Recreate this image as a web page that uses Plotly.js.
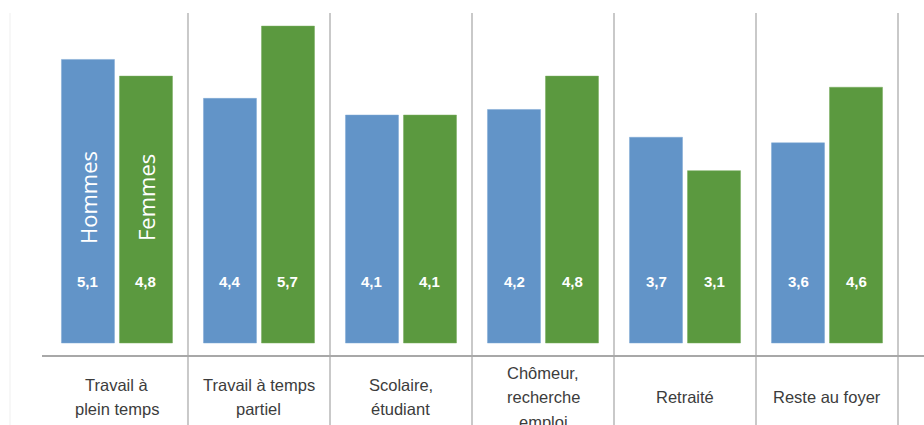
<!DOCTYPE html>
<html>
<head>
<meta charset="utf-8">
<script src="https://cdn.plot.ly/plotly-3.0.1.min.js"></script>
<style>
html,body{margin:0;padding:0;background:#ffffff;}
#chart{width:924px;height:425px;}
</style>
</head>
<body>
<div id="chart"></div>
<script>
// ---- Data ----
const categories = ["Travail à plein temps", "Travail à temps partiel", "Scolaire, étudiant", "Chômeur, recherche emploi", "Retraité", "Reste au foyer"];
const categoryLines = [
  ["Travail à", "plein temps"],
  ["Travail à temps", "partiel"],
  ["Scolaire,", "étudiant"],
  ["Chômeur,", "recherche", "emploi"],
  ["Retraité"],
  ["Reste au foyer"]
];
const hommes = [5.1, 4.4, 4.1, 4.2, 3.7, 3.6];
const femmes = [4.8, 5.7, 4.1, 4.8, 3.1, 4.6];
const seriesNames = ["Hommes", "Femmes"];

// ---- Layout helpers (pixels -> paper) ----
const plotTop = 13, plotBottom = 356, plotH = plotBottom - plotTop;
const pyToPaper = py => (plotBottom - py) / plotH;
const fmt = v => v.toFixed(1).replace('.', ',');

const blue = '#6294c8';
const green = '#5b993f';

const traces = [
  {type: 'bar', name: seriesNames[0], x: categories, y: hommes,
   marker: {color: blue, line: {color: '#7fa8d4', width: 0.5}}, hoverinfo: 'none'},
  {type: 'bar', name: seriesNames[1], x: categories, y: femmes,
   marker: {color: green, line: {color: '#78ad5f', width: 0.5}}, hoverinfo: 'none'}
];

const annotations = [];
const shapes = [];
categories.forEach((c, i) => {
  // value labels
  annotations.push({x: c, xref: 'x', y: pyToPaper(281), yref: 'paper', xshift: -29,
    text: '<b>' + fmt(hommes[i]) + '</b>', showarrow: false,
    font: {family: 'Liberation Sans, Arial, sans-serif', size: 15, color: '#ffffff'},
    xanchor: 'center', yanchor: 'middle'});
  annotations.push({x: c, xref: 'x', y: pyToPaper(281), yref: 'paper', xshift: 29,
    text: '<b>' + fmt(femmes[i]) + '</b>', showarrow: false,
    font: {family: 'Liberation Sans, Arial, sans-serif', size: 15, color: '#ffffff'},
    xanchor: 'center', yanchor: 'middle'});
  // category labels, line by line
  const lines = categoryLines[i];
  const n = lines.length;
  lines.forEach((ln, j) => {
    const py = 397 + (j - (n - 1) / 2) * 24.5;
    annotations.push({x: c, xref: 'x', y: pyToPaper(py), yref: 'paper',
      text: ln, showarrow: false,
      font: {family: 'Liberation Sans, Arial, sans-serif', size: 16.5, color: '#3c3c3c'},
      xanchor: 'center', yanchor: 'middle'});
  });
  // separators
  shapes.push({type: 'line', xref: 'x', yref: 'paper', x0: i + 0.5, x1: i + 0.5,
    y0: pyToPaper(425), y1: 1, line: {color: '#c9c9c9', width: 2}});
});

// series names inside first group
annotations.push({x: categories[0], xref: 'x', y: pyToPaper(197), yref: 'paper', xshift: -29,
  text: seriesNames[0], textangle: -90, showarrow: false,
  font: {family: 'Open Sans, sans-serif', size: 22, color: '#ffffff'}});
annotations.push({x: categories[0], xref: 'x', y: pyToPaper(197), yref: 'paper', xshift: 29,
  text: seriesNames[1], textangle: -90, showarrow: false,
  font: {family: 'Open Sans, sans-serif', size: 22, color: '#ffffff'}});

// baseline axis line
shapes.push({type: 'line', xref: 'paper', yref: 'paper', x0: 0, x1: 1, y0: 0, y1: 0,
  line: {color: '#a8a8a8', width: 2}});
// faint left border
shapes.push({type: 'line', xref: 'paper', yref: 'paper', x0: (10 - 42) / 882, x1: (10 - 42) / 882,
  y0: pyToPaper(425), y1: 1, line: {color: '#efefef', width: 1}});

const pxPerUnit = 55.6;
const layout = {
  width: 924, height: 425,
  margin: {l: 42, r: 0, t: plotTop, b: 425 - plotBottom, pad: 0},
  paper_bgcolor: '#ffffff', plot_bgcolor: '#ffffff',
  showlegend: false,
  barmode: 'group', bargap: 0.183, bargroupgap: 0.086,
  xaxis: {type: 'category', range: [-0.528, 5.683], visible: false, showgrid: false, zeroline: false},
  yaxis: {range: [-13 / pxPerUnit, (343 - plotTop) / pxPerUnit], visible: false, showgrid: false, zeroline: false},
  annotations: annotations,
  shapes: shapes
};

Plotly.newPlot('chart', traces, layout, {staticPlot: true, displayModeBar: false});
</script>
</body>
</html>
